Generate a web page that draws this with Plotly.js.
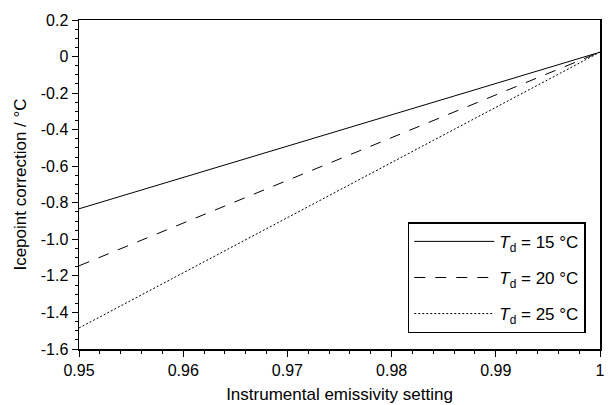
<!DOCTYPE html>
<html><head><meta charset="utf-8">
<script src="https://cdn.plot.ly/plotly-3.0.1.min.js"></script>
<style>body{margin:0;background:#fff}#c{width:610px;height:405px}</style>
</head><body><div id="c"></div>
<script>
const emissivity = [0.95, 1.0];
const corr15 = [-0.833, 0.024];
const corr20 = [-1.145, 0.024];
const corr25 = [-1.485, 0.024];
const names = ['<i>T</i><sub>d</sub> = 15 °C', '<i>T</i><sub>d</sub> = 20 °C', '<i>T</i><sub>d</sub> = 25 °C'];
const xTickVals = [0.95, 0.96, 0.97, 0.98, 0.99, 1.0];
const xTickText = ['0.95', '0.96', '0.97', '0.98', '0.99', '1'];
const yTickVals = [0.2, 0, -0.2, -0.4, -0.6, -0.8, -1.0, -1.2, -1.4, -1.6];
const yTickText = ['0.2', '0', '-0.2', '-0.4', '-0.6', '-0.8', '-1.0', '-1.2', '-1.4', '-1.6'];

const traces = [
  {x: emissivity, y: corr15, name: names[0], legendgroup: 'a', mode: 'lines', line: {color: '#000', width: 1}},
  {x: emissivity, y: corr20, name: names[1], legendgroup: 'b', mode: 'lines', line: {color: '#000', width: 1, dash: '11px,10px'}},
  {x: emissivity, y: corr25, name: names[2], legendgroup: 'c', mode: 'lines', line: {color: '#000', width: 1, dash: '2px,2px'}}
];
const FONT = 'Liberation Sans, Arial, sans-serif';
const axisCommon = {
  showgrid: false, zeroline: false, showline: true, linecolor: '#000', linewidth: 1.5,
  mirror: true, ticks: 'outside', ticklen: 6, tickwidth: 1, tickcolor: '#000',
  tickfont: {family: FONT, size: 16, color: '#000'}
};
const layout = {
  width: 610, height: 405,
  margin: {l: 79, r: 10, t: 20, b: 56},
  paper_bgcolor: '#fff', plot_bgcolor: '#fff',
  font: {family: FONT, color: '#000'},
  showlegend: true,
  legend: {x: 0.631, y: 0.385, xanchor: 'left', yanchor: 'top', bordercolor: '#000', borderwidth: 1.5,
    bgcolor: '#fff', font: {size: 17, family: FONT}, itemwidth: 80,
    tracegroupgap: 11},
  xaxis: Object.assign({}, axisCommon, {
    range: [0.95, 1.0], tickvals: xTickVals, ticktext: xTickText,
    minor: {ticks: 'outside', ticklen: 3, tickwidth: 1, tickcolor: '#000', dtick: 0.002},
    title: {text: 'Instrumental emissivity setting', font: {size: 17}, standoff: 10}
  }),
  yaxis: Object.assign({}, axisCommon, {
    range: [-1.6, 0.2], tickvals: yTickVals, ticktext: yTickText,
    minor: {ticks: 'outside', ticklen: 3, tickwidth: 1, tickcolor: '#000', dtick: 0.05},
    title: {text: 'Icepoint correction / °C', font: {size: 17}, standoff: 10}
  })
};
Plotly.newPlot('c', traces, layout, {staticPlot: true});
</script></body></html>
